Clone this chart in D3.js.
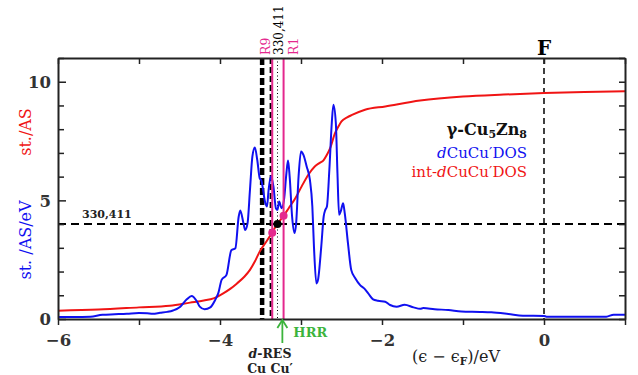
<!DOCTYPE html>
<html><head><meta charset="utf-8">
<script src="https://cdn.jsdelivr.net/npm/d3@7"></script>
<style>body{margin:0;background:#fff}svg{display:block}text{font-family:"DejaVu Serif",serif}</style>
</head><body><svg id="c" width="638" height="375"></svg>
<script>
// ---- data ----
const dosX = [-6.0,-5.8,-5.6,-5.45,-5.3,-5.15,-5.0,-4.9,-4.83,-4.74,-4.65,-4.58,-4.49,-4.41,-4.35,-4.29,-4.25,-4.19,-4.12,-4.06,-4.02,-3.98,-3.92,-3.86,-3.81,-3.77,-3.75,-3.71,-3.69,-3.66,-3.63,-3.60,-3.57,-3.54,-3.51,-3.49,-3.44,-3.42,-3.40,-3.37,-3.34,-3.31,-3.29,-3.27,-3.24,-3.21,-3.18,-3.16,-3.14,-3.11,-3.08,-3.06,-3.03,-3.0,-2.97,-2.93,-2.89,-2.86,-2.84,-2.81,-2.79,-2.75,-2.72,-2.70,-2.68,-2.65,-2.62,-2.60,-2.57,-2.55,-2.53,-2.51,-2.48,-2.46,-2.42,-2.38,-2.33,-2.27,-2.22,-2.17,-2.11,-2.05,-1.96,-1.90,-1.82,-1.72,-1.61,-1.53,-1.49,-1.35,-1.18,-1.02,-0.79,-0.65,-0.44,-0.26,0.0,0.03,0.77,0.86,1.0];
const dosY = [0.08,0.08,0.1,0.18,0.2,0.22,0.25,0.24,0.22,0.26,0.3,0.36,0.52,0.83,0.97,0.77,0.52,0.41,0.49,0.8,1.1,1.65,1.86,2.9,2.98,4.3,4.57,4.03,3.75,4.03,5.44,6.85,7.23,6.7,5.94,5.84,4.88,4.74,5.44,6.03,5.58,4.67,4.6,4.95,4.67,5.02,6.15,6.68,6.0,4.32,3.62,4.03,6.0,7.06,6.92,6.43,5.86,4.74,3.05,1.5,1.65,3.05,4.32,4.6,4.74,6.29,8.26,9.03,8.26,6.15,4.39,4.53,4.88,4.46,3.19,2.07,1.72,1.43,1.29,1.08,0.83,0.77,0.73,0.59,0.52,0.6,0.49,0.43,0.46,0.41,0.38,0.32,0.30,0.28,0.21,0.14,0.13,0.1,0.1,0.18,0.18];
const intX = [-6.0,-5.5,-5.0,-4.62,-4.37,-4.2,-4.08,-3.96,-3.87,-3.79,-3.7,-3.63,-3.57,-3.51,-3.44,-3.36,-3.30,-3.22,-3.15,-3.07,-2.99,-2.91,-2.83,-2.77,-2.72,-2.68,-2.64,-2.58,-2.54,-2.50,-2.43,-2.37,-2.21,-1.96,-1.53,-1.0,-0.5,0.0,0.5,1.0];
const intY = [0.35,0.4,0.49,0.56,0.69,0.78,0.87,1.08,1.28,1.5,1.78,2.07,2.42,2.84,3.2,3.62,3.97,4.32,4.68,5.09,5.6,6.08,6.43,6.58,6.7,6.92,7.2,7.83,8.1,8.33,8.5,8.6,8.82,8.96,9.21,9.38,9.46,9.52,9.57,9.6];
const xTickLabels = [-6,-4,-2,0];
const yTickLabels = [0,5,10];
const markX = [-3.355,-3.29,-3.215];
const markY = [3.63,4.0,4.35];
const markColor = ["#e4288e","#000","#e4288e"];
const refLevel = 4;
const resX = -3.48, blackX = -3.375, r9X = -3.355, ptX = -3.29, r1X = -3.215, hrrX = -3.23, fermiX = 0;

// ---- layout ----
const svg = d3.select("#c");
const L=58, R=625, T=58, B=319;
const x = d3.scaleLinear().domain([-6,1]).range([L,R]);
const y = d3.scaleLinear().domain([0,11]).range([B,T]);
const blue="#1010f0", red="#f01414", mag="#e4288e", green="#3cb43c";

// horizontal ref line and vertical lines
svg.append("line").attr("x1",x(-6)).attr("x2",x(1)).attr("y1",y(refLevel)).attr("y2",y(refLevel))
  .attr("stroke","#000").attr("stroke-width",2).attr("stroke-dasharray","8,5");
svg.append("line").attr("x1",x(fermiX)).attr("x2",x(fermiX)).attr("y1",T).attr("y2",B)
  .attr("stroke","#000").attr("stroke-width",1.5).attr("stroke-dasharray","6,4");
svg.append("line").attr("x1",x(resX)).attr("x2",x(resX)).attr("y1",T).attr("y2",B)
  .attr("stroke","#000").attr("stroke-width",4.5).attr("stroke-dasharray","7,3");
svg.append("line").attr("x1",x(blackX)).attr("x2",x(blackX)).attr("y1",T).attr("y2",B)
  .attr("stroke","#000").attr("stroke-width",2).attr("stroke-dasharray","6,3");
svg.append("line").attr("x1",x(ptX)).attr("x2",x(ptX)).attr("y1",T).attr("y2",B)
  .attr("stroke","#000").attr("stroke-width",1).attr("stroke-dasharray","1,2.5");

// curves
const line = (xs,ys)=>d3.line().x((d,i)=>x(xs[i])).y((d,i)=>y(ys[i])).curve(d3.curveMonotoneX)(xs);
svg.append("path").attr("d",line(intX,intY)).attr("fill","none").attr("stroke",red).attr("stroke-width",2);
svg.append("path").attr("d",line(dosX,dosY)).attr("fill","none").attr("stroke",blue).attr("stroke-width",2);

// magenta lines on top
[r9X,r1X].forEach(v=>svg.append("line").attr("x1",x(v)).attr("x2",x(v)).attr("y1",T).attr("y2",B)
  .attr("stroke",mag).attr("stroke-width",2));

// markers
markX.forEach((v,i)=>svg.append("circle").attr("cx",x(v)).attr("cy",y(markY[i])).attr("r",4).attr("fill",markColor[i]));

// axes
const ints = d3.range(-6,2);
const yInts = d3.range(0,12);
const gB = svg.append("g").attr("transform",`translate(0,${B})`)
  .call(d3.axisBottom(x).tickValues(ints).tickSize(6).tickSizeOuter(0).tickPadding(9)
    .tickFormat(d=>xTickLabels.includes(d)?(d<0?"\u2212"+(-d):d):""));
const gT = svg.append("g").attr("transform",`translate(0,${T})`)
  .call(d3.axisTop(x).tickValues(ints).tickSize(-6).tickSizeOuter(0).tickFormat(""));
const gL = svg.append("g").attr("transform",`translate(${L},0)`)
  .call(d3.axisLeft(y).tickValues(yInts).tickSize(-6).tickSizeOuter(0).tickPadding(7)
    .tickFormat(d=>yTickLabels.includes(d)?d:""));
const gR = svg.append("g").attr("transform",`translate(${R},0)`)
  .call(d3.axisRight(y).tickValues(yInts).tickSize(-6).tickSizeOuter(0).tickFormat(""));
[gB,gT,gL,gR].forEach(g=>{
  g.select(".domain").attr("stroke","#222").attr("stroke-width",2);
  g.selectAll(".tick line").attr("stroke","#222").attr("stroke-width",1.5);
  g.selectAll("text").attr("font-family","DejaVu Serif").attr("font-weight","bold").attr("font-size",16.5).attr("fill","#333");
});
gL.selectAll(".tick").filter(d=>yTickLabels.includes(d)).select("line").attr("x2",8);
gL.selectAll("text").attr("dy","0.35em");

// top rotated labels
const rot=(px,txt,col,size)=>svg.append("text").attr("transform",`translate(${px},55) rotate(-90)`)
  .attr("font-size",size).attr("fill",col).text(txt);
rot(x(r9X)-2,"R9",mag,12.5);
rot(x(ptX)+5,"330,411","#000",12);
rot(x(r1X)+14,"R1",mag,12.5);

// F label
svg.append("text").attr("x",x(fermiX)).attr("y",55).attr("text-anchor","middle")
  .attr("font-size",20).attr("font-weight","bold").text("F");

// ref label
svg.append("text").attr("x",82).attr("y",218).attr("font-size",11).attr("font-weight","bold").attr("fill","#222").text("330,411");

// legend
const lg = svg.append("g");
const t1 = lg.append("text").attr("x",527).attr("y",135).attr("text-anchor","end").attr("font-size",16).attr("font-weight","bold").attr("fill","#111");
t1.append("tspan").text("γ-Cu");
t1.append("tspan").attr("font-size",11).attr("dy",3).text("5");
t1.append("tspan").attr("dy",-3).text("Zn");
t1.append("tspan").attr("font-size",11).attr("dy",3).text("8");
const t2 = lg.append("text").attr("x",527).attr("y",158).attr("text-anchor","end").attr("font-size",15).attr("fill",blue);
t2.append("tspan").attr("font-style","italic").text("d");
t2.append("tspan").text("CuCu′DOS");
const t3 = lg.append("text").attr("x",527).attr("y",177).attr("text-anchor","end").attr("font-size",15).attr("fill",red);
t3.append("tspan").text("int-");
t3.append("tspan").attr("font-style","italic").text("d");
t3.append("tspan").text("CuCu′DOS");

// y labels
svg.append("text").attr("transform","translate(31,132) rotate(-90)").attr("text-anchor","middle")
  .attr("font-size",16).attr("fill",red).text("st./AS");
svg.append("text").attr("transform","translate(31,240) rotate(-90)").attr("text-anchor","middle")
  .attr("font-size",16).attr("fill",blue).text("st. /AS/eV");

// x label
const xl = svg.append("text").attr("x",456).attr("y",362).attr("text-anchor","middle").attr("font-size",16).attr("fill","#222");
xl.append("tspan").text("(ϵ − ϵ");
xl.append("tspan").attr("font-size",10.5).attr("font-weight","bold").attr("dy",3).text("F");
xl.append("tspan").attr("dy",-3).text(")/eV");

// HRR arrow
const ax = x(hrrX);
svg.append("line").attr("x1",ax).attr("x2",ax).attr("y1",343).attr("y2",320).attr("stroke",green).attr("stroke-width",1.8);
svg.append("path").attr("d",`M${ax-5},328 L${ax},320 L${ax+5},328`).attr("fill","none").attr("stroke",green).attr("stroke-width",1.8);
svg.append("text").attr("x",ax+11).attr("y",337).attr("font-size",13).attr("font-weight","bold").attr("fill",green).text("HRR");

// d-RES label
const d1 = svg.append("text").attr("x",270).attr("y",358).attr("text-anchor","middle").attr("font-size",12.5).attr("font-weight","bold").attr("fill","#222");
d1.append("tspan").attr("font-style","italic").text("d");
d1.append("tspan").text("-RES");
svg.append("text").attr("x",270).attr("y",373).attr("text-anchor","middle").attr("font-size",12.5).attr("font-weight","bold").attr("fill","#222").text("Cu Cu′");
</script></body></html>
